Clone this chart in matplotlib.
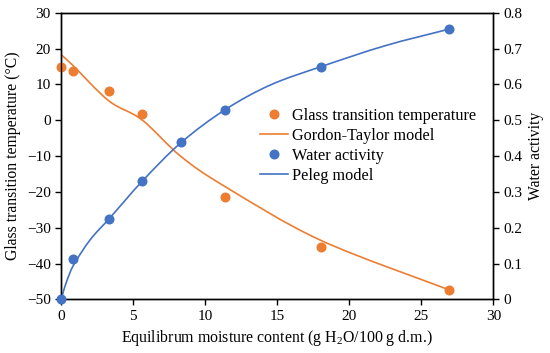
import matplotlib
matplotlib.use("Agg")
import matplotlib.pyplot as plt
from matplotlib.lines import Line2D
from matplotlib.path import Path
from matplotlib.patches import PathPatch

plt.rcParams['font.family'] = ['Liberation Serif', 'DejaVu Serif']
plt.rcParams['mathtext.fontset'] = 'custom'
plt.rcParams['mathtext.rm'] = 'Liberation Serif'

# Measured data
tg_moisture = [0, 0.8, 3.3, 5.6, 11.4, 18.0, 26.9]
tg_values = [14.9, 13.6, 8.2, 1.7, -21.3, -35.5, -47.5]
aw_moisture = [0, 0.8, 3.3, 5.6, 8.3, 11.4, 18.0, 26.9]
aw_values = [0.0, 0.113, 0.225, 0.33, 0.438, 0.529, 0.649, 0.754]

# Model curves, values
gt_x = [0, 0.8, 3.3, 5.6, 8.3, 11.4, 18.0, 26.9]
gt_model = [18.2, 15.3, 5.4, 0.1, -10.1, -18.6, -33.5, -47.3]
peleg_x = [0, 0.3, 0.8, 2.0, 3.3, 5.6, 8.3, 11.4, 14.5, 18.0, 22.5, 26.9]
peleg_model = [0.0, 0.042, 0.092, 0.166, 0.224, 0.329, 0.437, 0.530, 0.598, 0.649, 0.708, 0.754]

orange = '#ED7D31'
blue = '#4472C4'


def smooth_path(xs, ys):
    """Excel-style smoothed line: cubic Bezier segments through the points."""
    pts = list(zip(xs, ys))
    n = len(pts)
    verts = [pts[0]]
    codes = [Path.MOVETO]
    for i in range(n - 1):
        p0 = pts[i - 1] if i > 0 else pts[i]
        p1 = pts[i]
        p2 = pts[i + 1]
        p3 = pts[i + 2] if i + 2 < n else pts[i + 1]
        c1 = (p1[0] + (p2[0] - p0[0]) / 6.0, p1[1] + (p2[1] - p0[1]) / 6.0)
        c2 = (p2[0] - (p3[0] - p1[0]) / 6.0, p2[1] - (p3[1] - p1[1]) / 6.0)
        verts += [c1, c2, p2]
        codes += [Path.CURVE4] * 3
    return Path(verts, codes)


def hermite_path(xs, ys):
    """Smooth curve through points, parameterised by x (cubic Hermite as Bezier)."""
    n = len(xs)
    slopes = []
    for i in range(n):
        if i == 0:
            s = (ys[1] - ys[0]) / (xs[1] - xs[0])
            s2 = (ys[2] - ys[1]) / (xs[2] - xs[1])
            s = 1.5 * s - 0.5 * s2
        elif i == n - 1:
            s = (ys[-1] - ys[-2]) / (xs[-1] - xs[-2])
        else:
            s = (ys[i + 1] - ys[i - 1]) / (xs[i + 1] - xs[i - 1])
        slopes.append(s)
    verts = [(xs[0], ys[0])]
    codes = [Path.MOVETO]
    for i in range(n - 1):
        h = xs[i + 1] - xs[i]
        c1 = (xs[i] + h / 3.0, ys[i] + slopes[i] * h / 3.0)
        c2 = (xs[i + 1] - h / 3.0, ys[i + 1] - slopes[i + 1] * h / 3.0)
        verts += [c1, c2, (xs[i + 1], ys[i + 1])]
        codes += [Path.CURVE4] * 3
    return Path(verts, codes)


fig = plt.figure(figsize=(5.5, 3.53), dpi=100)
ax = fig.add_axes([0.1115, 0.152, 0.897 - 0.1115, 0.964 - 0.152])
ax2 = ax.twinx()

ax.add_patch(PathPatch(smooth_path(gt_x, gt_model), fill=False, edgecolor=orange,
                       lw=1.2, zorder=2, transform=ax.transData))
ax.plot(tg_moisture, tg_values, 'o', color=orange, ms=6.2, clip_on=False, zorder=3)
ax2.add_patch(PathPatch(hermite_path(peleg_x, peleg_model), fill=False, edgecolor=blue,
                        lw=1.2, zorder=2, transform=ax2.transData))
ax2.plot(aw_moisture, aw_values, 'o', color=blue, ms=6.2, clip_on=False, zorder=3)

ax.set_xlim(0, 30)
ax.set_ylim(-50, 30)
ax2.set_ylim(0, 0.8)
ax.set_xticks(range(0, 31, 5))
ax.set_yticks(range(-50, 31, 10))
ax2.set_yticks([0, 0.1, 0.2, 0.3, 0.4, 0.5, 0.6, 0.7, 0.8])
ax2.set_yticklabels(['0', '0.1', '0.2', '0.3', '0.4', '0.5', '0.6', '0.7', '0.8'])

for a in (ax, ax2):
    a.tick_params(direction='out', length=4, width=1, labelsize=11, colors='black')
    for s in a.spines.values():
        s.set_linewidth(1.0)
        s.set_color('black')

ax.set_xlabel('Equilibrum moisture content (g H$_\\mathregular{2}$O/100 g d.m.)', fontsize=11.4)
ax.set_ylabel('Glass transition temperature (°C)', fontsize=11.3)
ax2.set_ylabel('Water activity', fontsize=11.3)

handles = [
    Line2D([], [], marker='o', color=orange, ls='none', ms=6.2),
    Line2D([], [], color=orange, lw=1.2),
    Line2D([], [], marker='o', color=blue, ls='none', ms=6.2),
    Line2D([], [], color=blue, lw=1.2),
]
labels = ['Glass transition temperature', 'Gordon-Taylor model', 'Water activity', 'Peleg model']
leg = ax2.legend(handles, labels, loc='upper left', bbox_to_anchor=(0.441, 0.697),
                 frameon=False, fontsize=11.7, handlelength=1.75, handletextpad=0.2,
                 labelspacing=0.25, borderpad=0.0)
ax2.set_zorder(ax.get_zorder() + 1)
ax2.patch.set_visible(False)

fig.savefig('out.png', dpi=100)
